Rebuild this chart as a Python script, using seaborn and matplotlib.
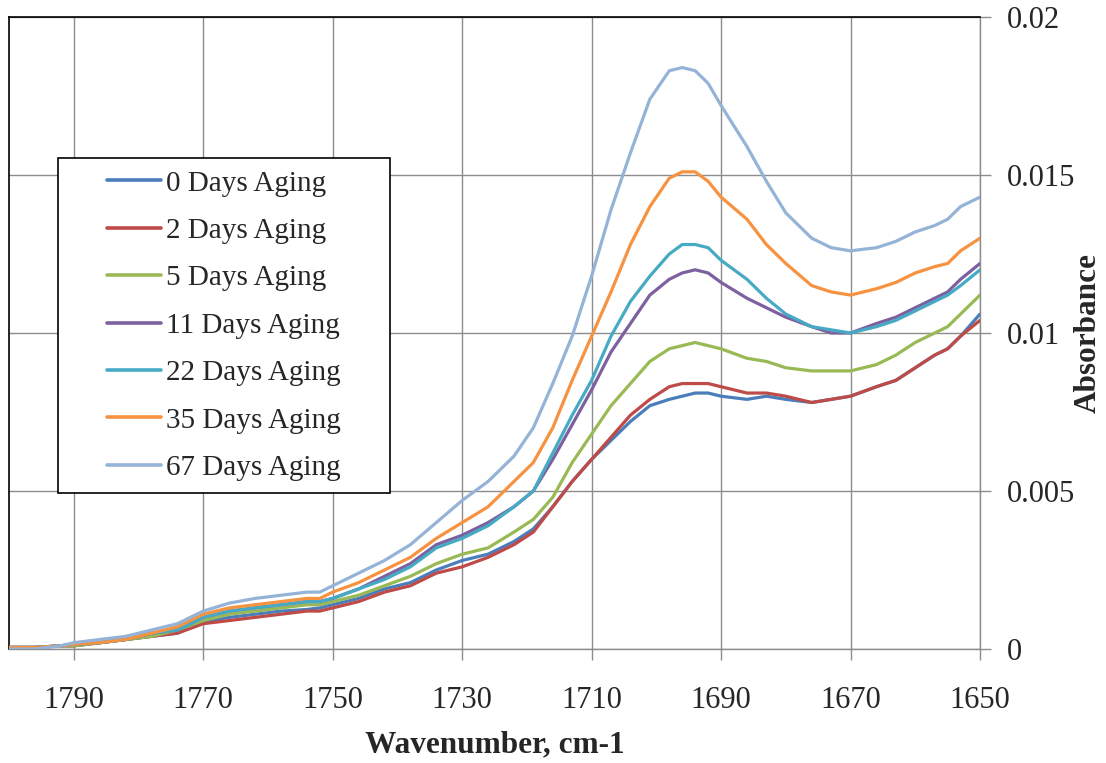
import numpy as np
import pandas as pd
import matplotlib
matplotlib.use("Agg")
import matplotlib.pyplot as plt
import seaborn as sns

# wavenumber grid (cm-1) and absorbance
wavenumber = [1800, 1796, 1792, 1790, 1786, 1782, 1778, 1774, 1770, 1766, 1762, 1758,
              1754, 1752, 1750, 1746, 1742, 1738, 1734, 1730, 1726, 1722, 1719, 1716,
              1713, 1710, 1707, 1704, 1701, 1698, 1696, 1694, 1692, 1690, 1686, 1683,
              1680, 1676, 1673, 1670, 1666, 1663, 1660, 1657, 1655, 1653, 1650]

days_0 = [0.00005, 0.00005, 0.0001, 0.0001, 0.0002, 0.0003, 0.0004, 0.0005, 0.00085, 0.0010,
          0.0011, 0.0012, 0.00125, 0.0013, 0.0014, 0.0016, 0.0019, 0.0021, 0.0025, 0.0028,
          0.0030, 0.0034, 0.0038, 0.0045, 0.0053, 0.0060, 0.0066, 0.0072, 0.0077, 0.0079,
          0.0080, 0.0081, 0.0081, 0.0080, 0.0079, 0.0080, 0.0079, 0.0078, 0.0079, 0.0080,
          0.0083, 0.0085, 0.0089, 0.0093, 0.0095, 0.0099, 0.0106]
days_2 = [0.00005, 0.00005, 0.0001, 0.0001, 0.0002, 0.0003, 0.0004, 0.0005, 0.0008, 0.0009,
          0.0010, 0.0011, 0.0012, 0.0012, 0.0013, 0.0015, 0.0018, 0.0020, 0.0024, 0.0026,
          0.0029, 0.0033, 0.0037, 0.0045, 0.0053, 0.0060, 0.0067, 0.0074, 0.0079, 0.0083,
          0.0084, 0.0084, 0.0084, 0.0083, 0.0081, 0.0081, 0.0080, 0.0078, 0.0079, 0.0080,
          0.0083, 0.0085, 0.0089, 0.0093, 0.0095, 0.0099, 0.0104]
days_5 = [0.00005, 0.00005, 0.0001, 0.0001, 0.0002, 0.0003, 0.0004, 0.0006, 0.0009, 0.0011,
          0.0012, 0.0013, 0.0014, 0.0014, 0.0015, 0.0017, 0.0020, 0.0023, 0.0027, 0.0030,
          0.0032, 0.0037, 0.0041, 0.0048, 0.0059, 0.0068, 0.0077, 0.0084, 0.0091, 0.0095,
          0.0096, 0.0097, 0.0096, 0.0095, 0.0092, 0.0091, 0.0089, 0.0088, 0.0088, 0.0088,
          0.0090, 0.0093, 0.0097, 0.0100, 0.0102, 0.0106, 0.0112]
days_11 = [0.00005, 0.00005, 0.0001, 0.00015, 0.0002, 0.0003, 0.0005, 0.0006, 0.0010, 0.0012,
           0.0013, 0.0014, 0.0015, 0.0015, 0.0016, 0.0019, 0.0023, 0.0027, 0.0033, 0.0036,
           0.0040, 0.0045, 0.0050, 0.0060, 0.0071, 0.0082, 0.0094, 0.0103, 0.0112, 0.0117,
           0.0119, 0.0120, 0.0119, 0.0116, 0.0111, 0.0108, 0.0105, 0.0102, 0.0100, 0.0100,
           0.0103, 0.0105, 0.0108, 0.0111, 0.0113, 0.0117, 0.0122]
days_22 = [0.00005, 0.00005, 0.0001, 0.00015, 0.0002, 0.0003, 0.0005, 0.0006, 0.0010, 0.0012,
           0.0013, 0.0014, 0.0015, 0.0015, 0.0016, 0.0019, 0.0022, 0.0026, 0.0032, 0.0035,
           0.0039, 0.0045, 0.0050, 0.0062, 0.0074, 0.0085, 0.0099, 0.0110, 0.0118, 0.0125,
           0.0128, 0.0128, 0.0127, 0.0123, 0.0117, 0.0111, 0.0106, 0.0102, 0.0101, 0.0100,
           0.0102, 0.0104, 0.0107, 0.0110, 0.0112, 0.0115, 0.0120]
days_35 = [0.00005, 0.00005, 0.0001, 0.00015, 0.0002, 0.0003, 0.0005, 0.0007, 0.0011, 0.0013,
           0.0014, 0.0015, 0.0016, 0.0016, 0.0018, 0.0021, 0.0025, 0.0029, 0.0035, 0.0040,
           0.0045, 0.0053, 0.0059, 0.0070, 0.0085, 0.0099, 0.0113, 0.0128, 0.0140, 0.0149,
           0.0151, 0.0151, 0.0148, 0.0143, 0.0136, 0.0128, 0.0122, 0.0115, 0.0113, 0.0112,
           0.0114, 0.0116, 0.0119, 0.0121, 0.0122, 0.0126, 0.0130]
days_67 = [0.0, 0.0, 0.0001, 0.0002, 0.0003, 0.0004, 0.0006, 0.0008, 0.0012, 0.00145,
           0.0016, 0.0017, 0.0018, 0.0018, 0.0020, 0.0024, 0.0028, 0.0033, 0.0040, 0.0047,
           0.0053, 0.0061, 0.0070, 0.0084, 0.0099, 0.0118, 0.0139, 0.0157, 0.0174, 0.0183,
           0.0184, 0.0183, 0.0179, 0.0172, 0.0159, 0.0148, 0.0138, 0.0130, 0.0127, 0.0126,
           0.0127, 0.0129, 0.0132, 0.0134, 0.0136, 0.0140, 0.0143]

series_names = ["0 Days Aging", "2 Days Aging", "5 Days Aging", "11 Days Aging",
                "22 Days Aging", "35 Days Aging", "67 Days Aging"]
series_values = [days_0, days_2, days_5, days_11, days_22, days_35, days_67]
colors = ["#4A7EBB", "#BE4B48", "#98B954", "#7D60A0", "#46AAC5", "#F69240", "#95B3D7"]

xticks = [1790, 1770, 1750, 1730, 1710, 1690, 1670, 1650]
yticks = [0, 0.005, 0.01, 0.015, 0.02]
ytick_labels = ["0", "0.005", "0.01", "0.015", "0.02"]

rows = []
for name, vals in zip(series_names, series_values):
    for w, v in zip(wavenumber, vals):
        rows.append({"Wavenumber": w, "Absorbance": v, "Series": name})
df = pd.DataFrame(rows)

sns.set_style("white")
plt.rcParams["font.family"] = ["Liberation Serif", "DejaVu Serif"]

grid_gray = "#8C8C8C"

fig = plt.figure(figsize=(11.06, 7.63), dpi=100)
ax = fig.add_axes([9 / 1106, 1 - 649 / 763, 971 / 1106, 632 / 763])

sns.lineplot(data=df, x="Wavenumber", y="Absorbance", hue="Series",
             hue_order=series_names, palette=dict(zip(series_names, colors)),
             estimator=None, linewidth=2.3, ax=ax, zorder=3)

ax.set_xlim(1800, 1650)
ax.set_ylim(0, 0.02)
ax.set_xticks(xticks)
ax.set_xticklabels([str(t) for t in xticks])
ax.set_yticks(yticks)
ax.set_yticklabels(ytick_labels)

ax.grid(True, color=grid_gray, linewidth=1.0, zorder=0)
ax.set_axisbelow(True)

ax.yaxis.tick_right()
ax.tick_params(axis="x", direction="out", length=8, width=1.0, color=grid_gray,
               labelsize=22, pad=19, bottom=True)
ax.tick_params(axis="y", direction="out", length=8, width=1.0, color=grid_gray,
               labelsize=22, pad=11, right=True, left=False)

for side in ["top", "left"]:
    ax.spines[side].set_color("black")
    ax.spines[side].set_linewidth(1.2)
for side in ["bottom", "right"]:
    ax.spines[side].set_color(grid_gray)
    ax.spines[side].set_linewidth(1.0)

ax.set_xlabel("Wavenumber, cm-1", fontsize=22.5, fontweight="bold", va="center")
ax.xaxis.set_label_coords(0.5, -0.152)
ax.yaxis.set_label_position("right")
ax.set_ylabel("Absorbance", fontsize=22.5, fontweight="bold", va="center")
ax.yaxis.set_label_coords(1.111, 0.5)

leg = ax.legend(loc="upper left", bbox_to_anchor=(0.0505, 0.25, 0.342, 0.527),
                mode="expand", alignment="center", borderaxespad=0,
                fontsize=21, frameon=True, fancybox=False, framealpha=1,
                edgecolor="black", handlelength=1.85, handletextpad=0.18,
                labelspacing=0.72, borderpad=0.42)
leg.get_frame().set_linewidth(1.2)
leg._legend_handle_box.mode = "fixed"
for line in leg.get_lines():
    line.set_linewidth(2.6)

fig.savefig("out.png", dpi=100)
